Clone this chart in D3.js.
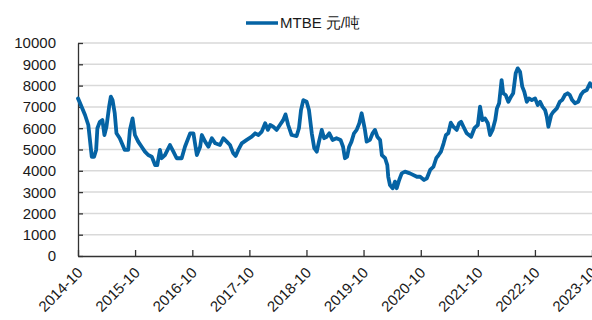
<!DOCTYPE html>
<html>
<head>
<meta charset="utf-8">
<script src="https://cdn.jsdelivr.net/npm/d3@7"></script>
<style>
  html, body { margin: 0; padding: 0; background: #fff; }
  svg { display: block; }
  text { font-family: "Liberation Sans", Arial, sans-serif; fill: #1a1a1a; }
</style>
</head>
<body>
<svg id="chart" width="592" height="320"></svg>
<script>
// MTBE spot price, yuan per tonne
const seriesName = "MTBE 元/吨";
const dates = [
  "2014-10-01","2014-10-14","2014-11-15","2014-12-06","2014-12-21","2014-12-28","2015-01-12","2015-01-25",
  "2015-02-02","2015-02-18","2015-03-06","2015-03-19","2015-04-01","2015-04-18","2015-04-29","2015-05-10",
  "2015-05-24","2015-06-04","2015-06-25","2015-07-27","2015-08-18","2015-08-29","2015-09-15","2015-09-30",
  "2015-10-21","2015-11-12","2015-12-03","2015-12-24","2016-01-16","2016-02-06","2016-02-20","2016-03-08",
  "2016-03-19","2016-04-09","2016-05-11","2016-06-02","2016-06-23","2016-07-25","2016-08-15","2016-09-17",
  "2016-10-08","2016-10-30","2016-11-20","2016-12-01","2016-12-22","2017-01-12","2017-02-03","2017-02-25",
  "2017-03-27","2017-04-17","2017-05-09","2017-05-30","2017-06-20","2017-07-05","2017-07-22","2017-08-13",
  "2017-09-14","2017-10-16","2017-11-07","2017-11-28","2017-12-19","2018-01-10","2018-01-27","2018-02-11",
  "2018-03-02","2018-03-24","2018-04-14","2018-05-05","2018-05-20","2018-06-06","2018-06-28","2018-07-30",
  "2018-08-14","2018-08-27","2018-09-11","2018-10-02","2018-10-17","2018-11-04","2018-11-20","2018-12-06",
  "2018-12-20","2019-01-07","2019-01-22","2019-02-08","2019-02-24","2019-03-17","2019-04-11","2019-05-07",
  "2019-05-23","2019-06-04","2019-06-18","2019-07-01","2019-07-16","2019-08-01","2019-08-18","2019-09-04",
  "2019-09-19","2019-09-30","2019-10-10","2019-10-21","2019-11-11","2019-11-28","2019-12-13","2019-12-28",
  "2020-01-15","2020-01-26","2020-02-16","2020-03-01","2020-03-07","2020-03-18","2020-04-04","2020-04-19",
  "2020-04-30","2020-05-16","2020-06-01","2020-06-22","2020-07-24","2020-09-06","2020-09-27","2020-10-22",
  "2020-11-09","2020-11-30","2020-12-21","2021-01-08","2021-01-23","2021-02-07","2021-02-24","2021-03-11",
  "2021-03-26","2021-04-11","2021-04-27","2021-05-19","2021-06-03","2021-06-16","2021-07-01","2021-07-22",
  "2021-08-19","2021-09-09","2021-10-01","2021-10-15","2021-10-30","2021-11-16","2021-12-04","2021-12-18",
  "2022-01-03","2022-01-20","2022-01-31","2022-02-14","2022-03-02","2022-03-12","2022-03-28","2022-04-14",
  "2022-05-01","2022-05-15","2022-05-31","2022-06-13","2022-06-28","2022-07-12","2022-07-25","2022-08-10",
  "2022-08-24","2022-09-11","2022-10-02","2022-10-19","2022-11-03","2022-11-18","2022-12-05","2022-12-16",
  "2022-12-26","2023-01-13","2023-01-27","2023-02-18","2023-03-09","2023-03-24","2023-04-11","2023-04-28",
  "2023-05-12","2023-05-27","2023-06-14","2023-07-05","2023-07-22","2023-08-06","2023-08-28","2023-09-18",
  "2023-09-30"
];
const prices = [
  7400,7180,6620,6150,5130,4660,4660,4980,
  6000,6300,6380,5680,6070,7010,7480,7320,
  6700,5760,5530,4980,4980,5920,6460,5680,
  5370,5130,4900,4740,4660,4270,4270,4980,
  4590,4740,5210,4900,4590,4590,5130,5760,
  5760,4740,5130,5680,5370,5130,5530,5290,
  5210,5530,5370,5210,4820,4700,4980,5290,
  5450,5600,5760,5680,5840,6230,5920,6150,
  6070,5920,6150,6380,6650,6150,5680,5630,
  6000,6850,7320,7240,6850,5760,5060,4900,
  5370,5920,5530,5600,5760,5450,5530,5450,
  5130,4590,4660,5130,5370,5760,5920,6230,
  6700,6300,5920,5370,5450,5760,5920,5600,
  5450,4740,4590,4270,3720,3330,3180,3490,
  3180,3570,3880,3960,3880,3720,3720,3570,
  3650,4040,4190,4590,4740,4900,5290,5680,
  5760,6260,6070,5920,6230,6300,6070,5760,
  5600,6000,6150,7010,6380,6460,6230,5680,
  5920,6380,6930,7170,8260,7640,7560,7240,
  7480,7640,8580,8810,8650,7950,7710,7240,
  7400,7320,7400,7090,7240,7010,6850,6540,
  6070,6620,6770,6930,7240,7320,7560,7640,
  7560,7320,7170,7240,7560,7710,7790,8110,
  7950
];
const xTickLabels = ["2014-10","2015-10","2016-10","2017-10","2018-10","2019-10","2020-10","2021-10","2022-10","2023-10"];
const yTicks = [0,1000,2000,3000,4000,5000,6000,7000,8000,9000,10000];

const parseDay = d3.timeParse("%Y-%m-%d");
const parseMonth = d3.timeParse("%Y-%m");
const data = dates.map((d, i) => ({ date: parseDay(d), value: prices[i] }));

const svg = d3.select("#chart");
const plotLeft = 78, plotRight = 592, plotTop = 43, plotBottom = 256;

const x = d3.scaleTime()
  .domain([parseMonth(xTickLabels[0]), parseMonth(xTickLabels[xTickLabels.length - 1])])
  .range([plotLeft, plotRight]);
const y = d3.scaleLinear().domain([0, 10000]).range([plotBottom, plotTop]);

// horizontal gridlines
svg.append("g")
  .selectAll("line")
  .data(yTicks.filter(v => v > 0))
  .join("line")
  .attr("x1", plotLeft).attr("x2", plotRight)
  .attr("y1", d => y(d)).attr("y2", d => y(d))
  .attr("stroke", "#d9d9d9")
  .attr("stroke-width", 1.5);

// y axis with inward ticks
const yAxis = svg.append("g")
  .attr("transform", `translate(${plotLeft},0)`)
  .call(d3.axisRight(y).tickValues(yTicks).tickSize(5).tickSizeOuter(0).tickFormat(""));
yAxis.select(".domain").attr("stroke", "#333").attr("stroke-width", 1.3);
yAxis.selectAll(".tick line").attr("stroke", "#333").attr("stroke-width", 1.3);

svg.append("g")
  .selectAll("text")
  .data(yTicks)
  .join("text")
  .attr("x", 56)
  .attr("y", d => y(d))
  .attr("dy", "0.36em")
  .attr("text-anchor", "end")
  .attr("font-size", 15)
  .text(d => d);

// x axis with inward ticks
const xTickDates = xTickLabels.map(parseMonth);
const xAxis = svg.append("g")
  .attr("transform", `translate(0,${plotBottom})`)
  .call(d3.axisTop(x).tickValues(xTickDates).tickSize(6).tickSizeOuter(0).tickFormat(""));
xAxis.select(".domain").attr("stroke", "#333").attr("stroke-width", 1.3);
xAxis.selectAll(".tick line").attr("stroke", "#333").attr("stroke-width", 1.3);

svg.append("g")
  .selectAll("text")
  .data(xTickLabels)
  .join("text")
  .attr("transform", d => `translate(${x(parseMonth(d)) + 2},${plotBottom + 14}) rotate(-45)`)
  .attr("text-anchor", "end")
  .attr("dy", "0.35em")
  .attr("font-size", 15)
  .text(d => d);

// price line
const line = d3.line()
  .x(d => x(d.date))
  .y(d => y(d.value))
  .curve(d3.curveLinear);

svg.append("path")
  .datum(data)
  .attr("fill", "none")
  .attr("stroke", "#0563a4")
  .attr("stroke-width", 3.8)
  .attr("stroke-linejoin", "round")
  .attr("stroke-linecap", "round")
  .attr("d", line);

// legend
const legend = svg.append("g").attr("transform", "translate(246,23)");
legend.append("line")
  .attr("x1", 0).attr("x2", 32)
  .attr("stroke", "#0563a4").attr("stroke-width", 3.5);
legend.append("text")
  .attr("x", 34)
  .attr("dy", "0.36em")
  .attr("font-size", 15)
  .text(seriesName);
</script>
</body>
</html>
